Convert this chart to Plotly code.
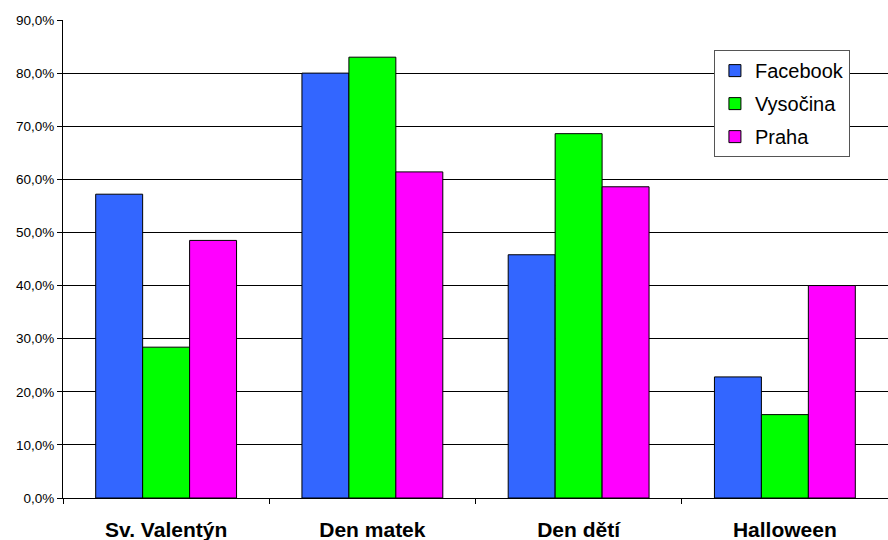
import plotly.graph_objects as go

categories = ["Sv. Valentýn", "Den matek", "Den dětí", "Halloween"]
facebook = [57.2, 80.0, 45.8, 22.8]
vysocina = [28.4, 83.0, 68.6, 15.7]
praha = [48.5, 61.4, 58.6, 40.0]
y_tick_values = [0, 10, 20, 30, 40, 50, 60, 70, 80, 90]
y_tick_labels = ["0,0%", "10,0%", "20,0%", "30,0%", "40,0%", "50,0%",
                 "60,0%", "70,0%", "80,0%", "90,0%"]

series = [
    ("Facebook", facebook, "#3366FF"),
    ("Vysočina", vysocina, "#00FF00"),
    ("Praha", praha, "#FF00FF"),
]

FONT = "Arial, Liberation Sans, sans-serif"

fig = go.Figure()
for i, (name, vals, color) in enumerate(series):
    fig.add_trace(go.Bar(
        x=categories, y=vals, name=name, legendgroup=f"g{i}",
        marker=dict(color=color, line=dict(color="#000000", width=1)),
    ))

fig.update_layout(
    width=888, height=540,
    margin=dict(l=63, r=0, t=20, b=42, autoexpand=False),
    paper_bgcolor="white", plot_bgcolor="white",
    barmode="group", bargap=0.317, bargroupgap=0,
    font=dict(family=FONT, color="#000000"),
    showlegend=True,
    legend=dict(
        x=0.789, y=0.937, xanchor="left", yanchor="top",
        bgcolor="white", bordercolor="#555555", borderwidth=1,
        font=dict(size=20, family=FONT),
        tracegroupgap=4, traceorder="grouped",
    ),
    xaxis=dict(
        type="category", range=[-0.5, 3.5], automargin=False,
        showline=True, linecolor="#000000", linewidth=1,
        ticks="outside", tickson="boundaries", ticklen=5, tickcolor="#000000",
        tickfont=dict(size=21, family=FONT, weight="bold"),
        ticklabelstandoff=13,
        showgrid=False,
    ),
    yaxis=dict(
        range=[0, 90], automargin=False,
        tickmode="array", tickvals=y_tick_values, ticktext=y_tick_labels,
        showline=True, linecolor="#000000", linewidth=1,
        ticks="outside", ticklen=5, tickcolor="#000000",
        showgrid=True, gridcolor="#000000", gridwidth=1,
        tickfont=dict(size=13.5, family=FONT),
        zeroline=False,
    ),
)

fig.write_html("out.html", config={"displayModeBar": False},
               post_script="document.body.style.margin='0';")
